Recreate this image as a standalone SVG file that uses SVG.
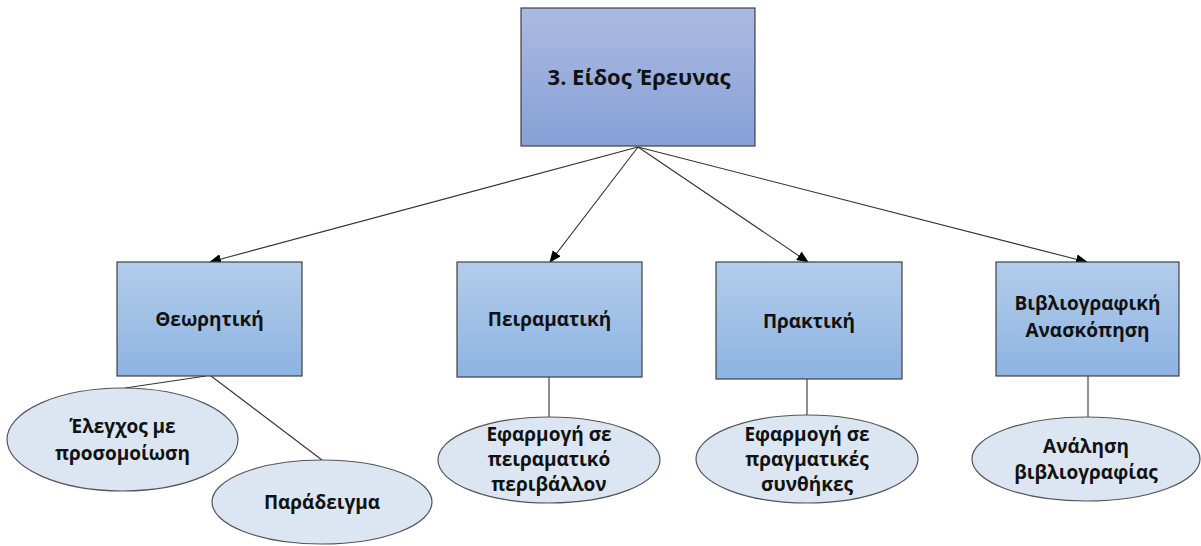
<svg xmlns="http://www.w3.org/2000/svg" width="1201" height="546" viewBox="0 0 1201 546">
<style>
.box{stroke:#404040;stroke-width:1.2}
.ell{fill:#dce6f2;stroke:#555;stroke-width:1.2}
.t{font-family:"Open Sans","Noto Sans",sans-serif;font-weight:bold;fill:#111;text-anchor:middle;font-size:19px}
.conn{stroke:#333;stroke-width:1.1;fill:none}
</style>
<defs>
<linearGradient id="gTop" x1="0" y1="0" x2="0" y2="1"><stop offset="0" stop-color="#abbae2"/><stop offset="1" stop-color="#87a0d6"/></linearGradient>
<linearGradient id="gBox" x1="0" y1="0" x2="0" y2="1"><stop offset="0" stop-color="#b3cdeb"/><stop offset="1" stop-color="#8db3e1"/></linearGradient>
<marker id="arr" markerWidth="12" markerHeight="10" refX="11" refY="5" orient="auto" markerUnits="userSpaceOnUse"><path d="M0,0 L12,5 L0,10 z" fill="#000"/></marker>
</defs>
<rect width="1201" height="546" fill="#fff"/>
<g id="connectors">
<line class="conn" x1="638" y1="147" x2="210" y2="262" marker-end="url(#arr)"/>
<line class="conn" x1="638" y1="147" x2="550" y2="262" marker-end="url(#arr)"/>
<line class="conn" x1="638" y1="147" x2="808" y2="262" marker-end="url(#arr)"/>
<line class="conn" x1="638" y1="147" x2="1087" y2="262" marker-end="url(#arr)"/>
<line class="conn" x1="206" y1="376" x2="125" y2="388"/>
<line class="conn" x1="211" y1="376" x2="322" y2="460"/>
<line class="conn" x1="549" y1="377" x2="549" y2="417"/>
<line class="conn" x1="807" y1="379" x2="807" y2="416"/>
<line class="conn" x1="1088" y1="376" x2="1088" y2="417"/>
</g>
<g id="n-top"><rect class="box" x="521" y="8" width="234" height="138" fill="url(#gTop)"/><text class="t" x="639" y="85" style="font-size:22px">3. Είδος Έρευνας</text></g>
<g id="n-theor"><rect class="box" x="117" y="262" width="185" height="114" fill="url(#gBox)"/><text class="t" x="209.5" y="326">Θεωρητική</text></g>
<g id="n-peir"><rect class="box" x="457" y="262" width="185" height="115" fill="url(#gBox)"/><text class="t" x="549.5" y="326">Πειραματική</text></g>
<g id="n-prakt"><rect class="box" x="716" y="262" width="186" height="117" fill="url(#gBox)"/><text class="t" x="809" y="328">Πρακτική</text></g>
<g id="n-biblio"><rect class="box" x="996" y="262" width="183" height="114" fill="url(#gBox)"/><text class="t" x="1087.5" y="310">Βιβλιογραφική</text><text class="t" x="1087.5" y="337">Ανασκόπηση</text></g>
<g id="e-elegxos"><ellipse class="ell" cx="122.5" cy="439.5" rx="115.5" ry="51.5"/><text class="t" x="122.5" y="433">Έλεγχος με</text><text class="t" x="122.5" y="460">προσομοίωση</text></g>
<g id="e-parad"><ellipse class="ell" cx="322" cy="502" rx="110" ry="42"/><text class="t" x="322" y="509">Παράδειγμα</text></g>
<g id="e-peir"><ellipse class="ell" cx="549" cy="460" rx="111" ry="43"/><text class="t" x="549" y="441">Εφαρμογή σε</text><text class="t" x="549" y="466">πειραματικό</text><text class="t" x="549" y="491">περιβάλλον</text></g>
<g id="e-prakt"><ellipse class="ell" cx="807" cy="459" rx="111" ry="44"/><text class="t" x="807" y="441">Εφαρμογή σε</text><text class="t" x="807" y="466">πραγματικές</text><text class="t" x="807" y="491">συνθήκες</text></g>
<g id="e-biblio"><ellipse class="ell" cx="1086" cy="459" rx="114" ry="42"/><text class="t" x="1086" y="453">Ανάληση</text><text class="t" x="1086" y="479">βιβλιογραφίας</text></g>
</svg>
